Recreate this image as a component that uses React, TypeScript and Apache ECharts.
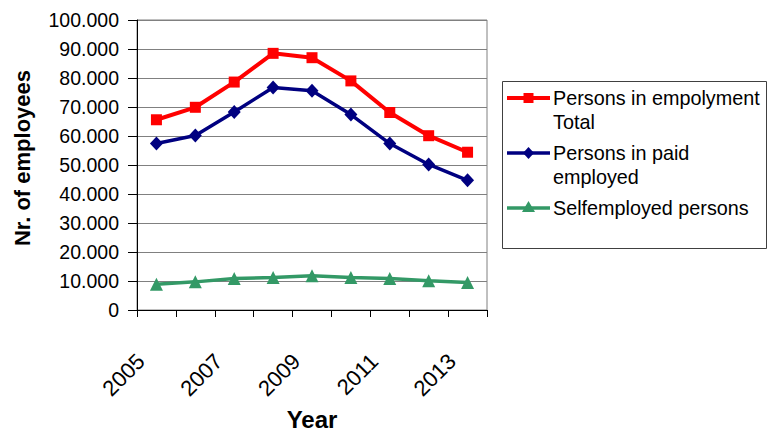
import React, { useEffect, useRef } from "react";
import * as echarts from "echarts";

const years = ["2005", "2006", "2007", "2008", "2009", "2010", "2011", "2012", "2013"];
const totalEmployment = [65600, 69900, 78600, 88500, 87000, 79000, 68100, 60100, 54400];
const paidEmployment = [57400, 60200, 68300, 76700, 75600, 67400, 57400, 50200, 44700];
const selfEmployment = [8900, 9700, 10900, 11200, 11800, 11200, 10900, 10100, 9500];
const seriesNames = [
  "Persons in empolyment\nTotal",
  "Persons in paid\nemployed",
  "Selfemployed persons",
];
const seriesColors = ["#FF0000", "#000080", "#339966"];

const FONT = '"Liberation Sans", Arial, Helvetica, sans-serif';

function fmt(v: number): string {
  if (v === 0) return "0";
  const th = Math.floor(v / 1000);
  return th + ".000";
}

export default function App() {
  const ref = useRef<HTMLDivElement>(null);
  useEffect(() => {
    if (!ref.current) return;
    const chart = echarts.init(ref.current, undefined, { renderer: "svg" });
    const dataSets = [totalEmployment, paidEmployment, selfEmployment];
    const symbols = ["rect", "diamond", "triangle"];
    const symbolSizes: any[] = [11, [13, 14], 13];
    const lineWidths = [4, 3.5, 3.5];

    const legendRowsY = [98, 153, 208];
    const legendEls: any[] = [
      {
        type: "rect",
        shape: { x: 502.5, y: 81.5, width: 264, height: 167 },
        style: { fill: "#fff", stroke: "#404040", lineWidth: 1 },
      },
    ];
    seriesNames.forEach((name, i) => {
      const y = legendRowsY[i];
      const c = seriesColors[i];
      legendEls.push({
        type: "line",
        shape: { x1: 507, y1: y, x2: 550, y2: y },
        style: { stroke: c, lineWidth: lineWidths[i] },
      });
      if (i === 0) {
        legendEls.push({
          type: "rect",
          shape: { x: 523.5, y: y - 5, width: 10, height: 10 },
          style: { fill: c },
        });
      } else if (i === 1) {
        legendEls.push({
          type: "polygon",
          shape: { points: [[528.5, y - 6], [534, y], [528.5, y + 6], [523, y]] },
          style: { fill: c },
        });
      } else {
        legendEls.push({
          type: "polygon",
          shape: { points: [[528.5, y - 7], [535, y + 4], [522, y + 4]] },
          style: { fill: c },
        });
      }
      name.split("\n").forEach((line, j) => {
        legendEls.push({
          type: "text",
          x: 553,
          y: y + j * 23.6,
          style: {
            text: line,
            font: `19.8px ${FONT}`,
            fill: "#000",
            verticalAlign: "middle",
            align: "left",
          },
        });
      });
    });

    chart.setOption({
      animation: false,
      backgroundColor: "#fff",
      grid: {
        left: 137,
        right: 283,
        top: 20,
        bottom: 125,
        show: true,
        borderColor: "#808080",
        borderWidth: 1,
        containLabel: false,
      },
      xAxis: {
        type: "category",
        data: years,
        boundaryGap: true,
        name: "Year",
        nameLocation: "middle",
        nameGap: 97,
        nameTextStyle: { fontFamily: FONT, fontSize: 24, fontWeight: "bold", color: "#000" },
        axisLine: { show: true, lineStyle: { color: "#000", width: 1 } },
        axisTick: { show: true, interval: 0, length: 7, lineStyle: { color: "#000" } },
        axisLabel: {
          interval: 1,
          rotate: 45,
          margin: 32,
          fontFamily: FONT,
          fontSize: 22,
          color: "#000",
          padding: [0, 22, 0, 0],
        },
        splitLine: { show: false },
      },
      yAxis: {
        type: "value",
        min: 0,
        max: 100000,
        interval: 10000,
        name: "Nr. of employees",
        nameLocation: "middle",
        nameGap: 104,
        nameRotate: 90,
        nameTextStyle: {
          fontFamily: FONT,
          fontSize: 22,
          fontWeight: "bold",
          color: "#000",
          padding: [0, 0, 0, 14],
        },
        axisLine: { show: true, lineStyle: { color: "#000", width: 1 } },
        axisTick: { show: true, length: 9, inside: false, lineStyle: { color: "#000" } },
        axisLabel: {
          margin: 18,
          fontFamily: FONT,
          fontSize: 19.5,
          color: "#000",
          formatter: (v: number) => fmt(v),
        },
        splitLine: { show: true, lineStyle: { color: "#808080", width: 1 } },
      },
      series: dataSets.map((d, i) => ({
        name: seriesNames[i],
        type: "line",
        data: d,
        symbol: symbols[i],
        symbolSize: symbolSizes[i],
        showSymbol: true,
        itemStyle: { color: seriesColors[i] },
        lineStyle: { color: seriesColors[i], width: lineWidths[i] },
        z: 10 - i,
      })),
      graphic: legendEls,
    });
    return () => chart.dispose();
  }, []);
  return (
    <div
      ref={ref}
      style={{ position: "fixed", left: 0, top: 0, width: 770, height: 436, background: "#fff" }}
    />
  );
}
